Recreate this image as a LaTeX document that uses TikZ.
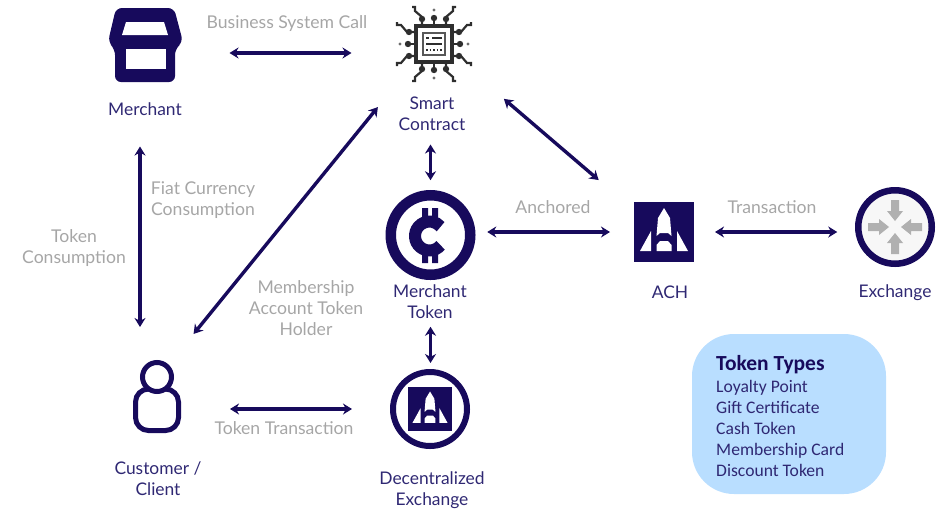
\documentclass[tikz,border=0pt]{standalone}
\usepackage{fontspec}
\setmainfont{Lato}
\newfontfamily\boxfont{Carlito}
\usetikzlibrary{arrows.meta}
\definecolor{navy}{HTML}{170A5C}
\definecolor{labelnavy}{HTML}{2F2873}
\definecolor{notegrey}{HTML}{A6A6A6}
\definecolor{boxblue}{HTML}{B9DEFF}
\definecolor{chipgrey}{HTML}{2E2E2E}
\definecolor{arrowgrey}{HTML}{B0B0B0}
\tikzset{
  link/.style={{Stealth[length=9,width=11]}-{Stealth[length=9,width=11]},draw=navy,line width=3.4},
  iconlabel/.style={text=labelnavy,align=center,inner sep=0,font=\fontsize{17.4}{21}\selectfont},
  linklabel/.style={text=notegrey,align=center,inner sep=0,font=\fontsize{17.6}{21}\selectfont},
  iconbox/.style={inner sep=0,outer sep=0},
  ring/.style={circle,draw=navy,fill=white,inner sep=0,outer sep=0},
  rocketmark/.pic={
    \fill[white] (0,-24) -- (6,-14) -- (7.5,4) -- (4,1) -- (-4,1) -- (-7.5,4) -- (-6,-14) -- cycle;
    \fill[white] (-7.5,19) -- (-7.5,13) -- (-4,9) -- (4,9) -- (7.5,13) -- (7.5,19) -- cycle;
    \fill[white] (-24,19) -- (-13,-1) -- (-13,19) -- cycle;
    \fill[white] (24,19) -- (13,-1) -- (13,19) -- cycle;
  },
}
\begin{document}
\begin{tikzpicture}[x=1pt,y=-1pt]
  \useasboundingbox (0,0) rectangle (949,512);
  % icons
  \node[iconbox,minimum width=75,minimum height=75] (merchant) at (145,45) {};
  \node[iconbox,minimum width=75,minimum height=76] (smart) at (434,44) {};
  \node[ring,line width=10.5,minimum size=79.5] (token) at (430.5,235) {};
  \node[iconbox,fill=navy,minimum size=60] (ach) at (664,232) {};
  \node[ring,line width=6.5,fill=white!97!black,minimum size=73.5] (exchange) at (895,227) {};
  \node[iconbox,minimum width=44,minimum height=72] (client) at (157,396) {};
  \node[ring,line width=6,minimum size=74] (dex) at (430,409) {};
  \node[iconbox,fill=navy,minimum size=44] (dexmark) at (430,409) {};
  % merchant
  \fill[navy,rounded corners=6] (116,8) -- (174,8) -- (183,42) -- (175,49) -- (175,82) -- (115,82) -- (115,49) -- (108,42) -- cycle;
  \fill[white] (126,22) -- (164,22) -- (168,35) -- (122,35) -- cycle;
  \fill[white] (126,49) rectangle (166,69);
  % smart contract
  \foreach \ang in {0,90,180,270} {
    \begin{scope}[shift={(434,44)},rotate=\ang]
      \draw[chipgrey,line width=2.2] (0,-18) -- (0,-28);
      \draw[chipgrey,line width=2.2] (-12,-18) -- (-12,-27) -- (-19,-33) -- (-19,-37) -- (-22,-37);
      \draw[chipgrey,line width=2.2] (12,-18) -- (12,-27) -- (19,-33) -- (19,-37) -- (22,-37);
      \fill[chipgrey] (0,-26) circle (3.2) (-12,-25) circle (3.2) (12,-25) circle (3.2);
      \fill[chipgrey!70] (0,-34) circle (1.6);
    \end{scope}
  }
  \draw[chipgrey,line width=3.2,fill=white] (416,26) rectangle (452,62);
  \draw[chipgrey!80,line width=1.6] (423,33) rectangle (445,55);
  \draw[chipgrey,line width=1.5] (426,38) -- (429,38) (432,38) -- (442,38) (426,44) -- (442,44);
  \draw[chipgrey,line width=1.6,dotted] (426,50) -- (442,50);
  % merchant token
  \draw[navy,line width=12] (429.5,236) ++(40:14.5) arc (40:320:14.5);
  \fill[navy] (422,208) rectangle (428,220) (432,208) rectangle (438,220);
  \fill[navy] (422,252) rectangle (428,263) (432,252) rectangle (438,263);
  % ach and dex marks
  \pic at (664,232) {rocketmark};
  \pic[scale=0.73] at (430,409) {rocketmark};
  % exchange arrows
  \foreach \ang in {0,90,180,270} {
    \fill[arrowgrey,shift={(895,227)},rotate=\ang] (-4,-27) -- (4,-27) -- (4,-16) -- (8,-16) -- (0,-6) -- (-8,-16) -- (-4,-16) -- cycle;
  }
  % client
  \draw[navy,line width=5,rounded corners=13] (135.5,389) rectangle (178.5,430.5);
  \draw[navy,line width=5,fill=white] (157,377) circle (14.5);
  % texts
  \node[iconlabel] (merchantname) at (145,109.5) {Merchant};
  \node[iconlabel] (smartname) at (432,113.5) {Smart\\Contract};
  \node[iconlabel] (tokenname) at (430,301.5) {Merchant\\Token};
  \node[iconlabel] (achname) at (670,292) {ACH};
  \node[iconlabel] (exchangename) at (895,293) {Exchange};
  \node[iconlabel] (clientname) at (158,478.5) {Customer /\\Client};
  \node[iconlabel] (dexname) at (432,490.5) {Decentralized\\Exchange};
  \node[linklabel] (callnote) at (287,24) {Business System Call};
  \node[linklabel] (fiatnote) at (203,200) {Fiat Currency\\Consumption};
  \node[linklabel] (consumenote) at (74,248) {Token\\Consumption};
  \node[linklabel] (holdernote) at (306,308) {Membership\\Account Token\\Holder};
  \node[linklabel] (anchornote) at (553,207) {Anchored};
  \node[linklabel] (transnote) at (772,207) {Transaction};
  \node[linklabel] (tradenote) at (284,428) {Token Transaction};
  % token types
  \node[fill=boxblue,rounded corners=42,minimum width=194,minimum height=160,inner sep=0] (types) at (789,414) {};
  \node[anchor=west,inner sep=0,text=navy,font=\boxfont\fontsize{21.5}{24}\selectfont\bfseries] (typestitle) at (716,365) {Token Types};
  \node[anchor=north west,inner sep=0,text=labelnavy,align=left,font=\boxfont\fontsize{17.6}{21}\selectfont] (typeslist) at (716,380.5) {Loyalty Point\\Gift Certificate\\Cash Token\\Membership Card\\Discount Token};
  % links
  \draw[link,shorten <=47,shorten >=45] ([yshift=-8]merchant.east) -- ([yshift=-9]smart.west);
  \draw[link,shorten <=62,shorten >=15] (token |- merchant.south) -- (token.north);
  \draw[link,shorten <=92,shorten >=86] ([yshift=5]smart.center) -- ([yshift=-4]ach.center);
  \draw[link,shorten <=17,shorten >=24] (token.east |- ach.west) -- (ach.west);
  \draw[link,shorten <=21,shorten >=21] (ach.east) -- (exchange.west |- ach.east);
  \draw[link,shorten <=64,shorten >=33] ([xshift=-5]merchant.south) -- ([xshift=-17]client.north);
  \draw[link,shorten <=58,shorten >=89] ([yshift=17]client.center) -- ([yshift=6]smart.center);
  \draw[link,shorten <=52,shorten >=9] (token.south) -- (token |- dex.north);
  \draw[link,shorten <=51,shorten >=41] (client.east |- dex.west) -- (dex.west);
\end{tikzpicture}
\end{document}
